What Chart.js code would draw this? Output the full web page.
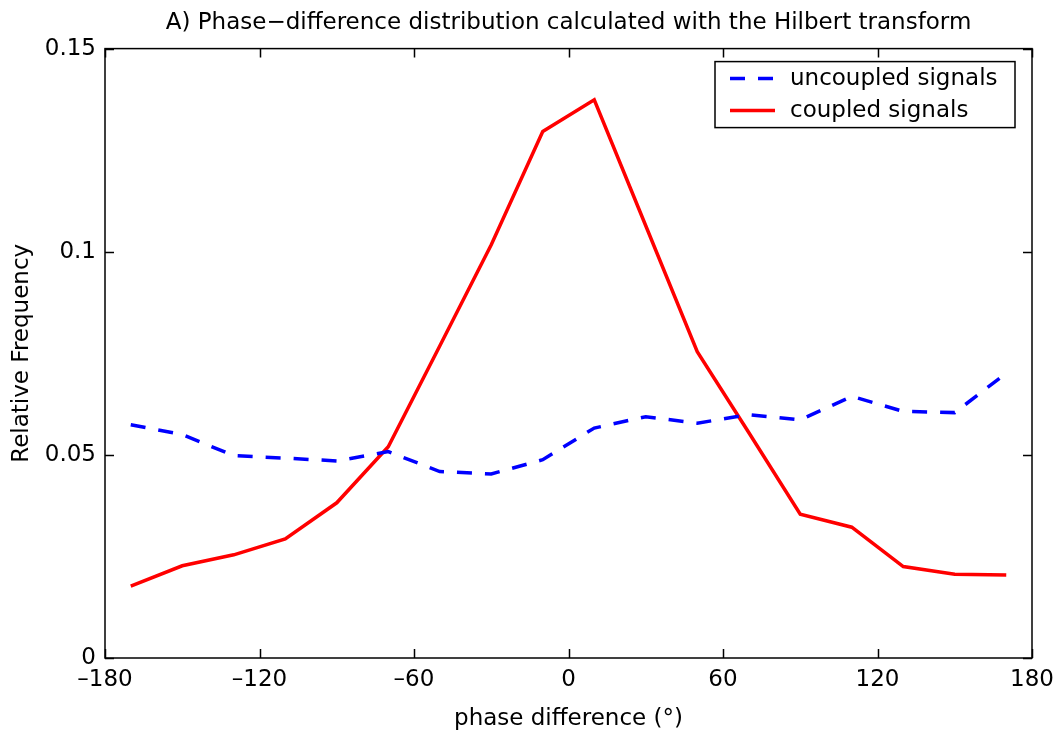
<!DOCTYPE html>
<html>
<head>
<meta charset="utf-8">
<script src="https://cdn.jsdelivr.net/npm/chart.js@4.4.1/dist/chart.umd.min.js"></script>
<style>
  html, body { margin: 0; padding: 0; background: #fff; }
  #wrap { width: 1058px; height: 740px; }
</style>
</head>
<body>
<div id="wrap"><canvas id="my-chart" width="1058" height="740"></canvas></div>
<script>
// phase bins (degrees) and relative frequencies
const phase = [-170, -150, -130, -110, -90, -70, -50, -30, -10, 10, 30, 50, 70, 90, 110, 130, 150, 170];
const uncoupled = [0.0574, 0.0550, 0.0498, 0.0492, 0.0485, 0.0508, 0.0459, 0.0453, 0.0488, 0.0566, 0.0594, 0.0578, 0.0599, 0.0586, 0.0644, 0.0607, 0.0604, 0.0701];
const coupled = [0.0177, 0.0227, 0.0254, 0.0293, 0.0382, 0.0520, 0.0768, 0.1017, 0.1296, 0.1374, 0.1064, 0.0754, 0.0555, 0.0354, 0.0322, 0.0225, 0.0206, 0.0204];

const xTicks = [-180, -120, -60, 0, 60, 120, 180];
const yTicks = [0, 0.05, 0.1, 0.15];
const yTickLabels = ['0', '0.05', '0.1', '0.15'];

const FONT = 'DejaVu Sans';

function toPoints(ys) {
    let pts = [];
    for (let i = 0; i < phase.length; i++) {
        pts.push({ x: phase[i], y: ys[i] });
    }
    return pts;
}

// matlab style box: frame on all four sides and inward ticks
const boxPlugin = {
    id: 'box',
    afterDatasetsDraw(chart) {
        const c = chart.ctx;
        const a = chart.chartArea;
        const xs = chart.scales.x;
        const ys = chart.scales.y;
        const len = 9;
        c.save();
        c.strokeStyle = '#000';
        c.lineWidth = 1.5;
        c.beginPath();
        xTicks.forEach(v => {
            const px = Math.round(xs.getPixelForValue(v)) + 0.5;
            c.moveTo(px, a.bottom); c.lineTo(px, a.bottom - len);
            c.moveTo(px, a.top); c.lineTo(px, a.top + len);
        });
        yTicks.forEach(v => {
            const py = Math.round(ys.getPixelForValue(v)) + 0.5;
            c.moveTo(a.left, py); c.lineTo(a.left + len, py);
            c.moveTo(a.right, py); c.lineTo(a.right - len, py);
        });
        c.stroke();
        c.strokeRect(a.left, a.top, a.right - a.left, a.bottom - a.top);
        c.restore();
    }
};

// legend box inside the top right corner of the plot
const legendBox = {
    id: 'legendBox',
    afterDraw(chart) {
        const c = chart.ctx;
        const a = chart.chartArea;
        const w = 300, h = 66;
        const bx = a.right - 17 - w;
        const by = a.top + 13;
        c.save();
        c.fillStyle = '#fff';
        c.fillRect(bx, by, w, h);
        c.strokeStyle = '#000';
        c.lineWidth = 1.5;
        c.strokeRect(bx, by, w, h);
        c.font = '23px "' + FONT + '"';
        c.textBaseline = 'middle';
        chart.data.datasets.forEach((ds, i) => {
            const cy = by + 17 + i * 32;
            c.strokeStyle = ds.borderColor;
            c.lineWidth = ds.borderWidth;
            c.setLineDash(ds.borderDash || []);
            c.beginPath();
            c.moveTo(bx + 15, cy);
            c.lineTo(bx + 60, cy);
            c.stroke();
            c.setLineDash([]);
            c.fillStyle = '#000';
            c.fillText(ds.label, bx + 75, cy);
        });
        c.restore();
    }
};

const ctx = document.getElementById('my-chart').getContext('2d');

let myChart = new Chart(ctx, {
    type: 'line',
    data: {
        datasets: [{
            label: 'uncoupled signals',
            data: toPoints(uncoupled),
            borderColor: '#0000ff',
            borderWidth: 3.5,
            borderDash: [15, 13],
            pointRadius: 0,
            tension: 0,
            fill: false
        }, {
            label: 'coupled signals',
            data: toPoints(coupled),
            borderColor: '#ff0000',
            borderWidth: 3.5,
            pointRadius: 0,
            tension: 0,
            fill: false
        }]
    },
    options: {
        responsive: false,
        animation: false,
        layout: { padding: { left: 0, right: 26, top: 0, bottom: 0 } },
        plugins: {
            legend: { display: false },
            tooltip: { enabled: false },
            title: {
                display: true,
                fullSize: false,
                text: 'A) Phase\u2212difference distribution calculated with the Hilbert transform',
                color: '#000',
                font: { family: FONT, size: 23, weight: 'normal' },
                padding: { top: 9, bottom: 12 }
            }
        },
        scales: {
            x: {
                type: 'linear',
                min: -180,
                max: 180,
                afterBuildTicks: s => { s.ticks = xTicks.map(v => ({ value: v })); },
                afterFit: s => { s.height = 82; s.paddingLeft = 0; s.paddingRight = 0; },
                ticks: {
                    color: '#000',
                    font: { family: FONT, size: 23 },
                    padding: 8,
                    maxRotation: 0,
                    callback: v => (v < 0 ? '\u2013' + Math.abs(v) : String(v))
                },
                grid: { display: false, drawTicks: false },
                border: { display: false },
                title: {
                    display: true,
                    text: 'phase difference (\u00b0)',
                    color: '#000',
                    font: { family: FONT, size: 23 },
                    padding: { top: 0, bottom: 7 }
                }
            },
            y: {
                type: 'linear',
                min: 0,
                max: 0.15,
                afterBuildTicks: s => { s.ticks = yTicks.map(v => ({ value: v })); },
                afterFit: s => { s.width = 105; s.paddingTop = 0; s.paddingBottom = 0; },
                ticks: {
                    color: '#000',
                    font: { family: FONT, size: 23 },
                    padding: 9,
                    callback: (v, i) => yTickLabels[i]
                },
                grid: { display: false, drawTicks: false },
                border: { display: false },
                title: {
                    display: true,
                    text: 'Relative Frequency',
                    color: '#000',
                    font: { family: FONT, size: 23 },
                    padding: { top: 8, bottom: 0 }
                }
            }
        }
    },
    plugins: [boxPlugin, legendBox]
});
</script>
</body>
</html>
